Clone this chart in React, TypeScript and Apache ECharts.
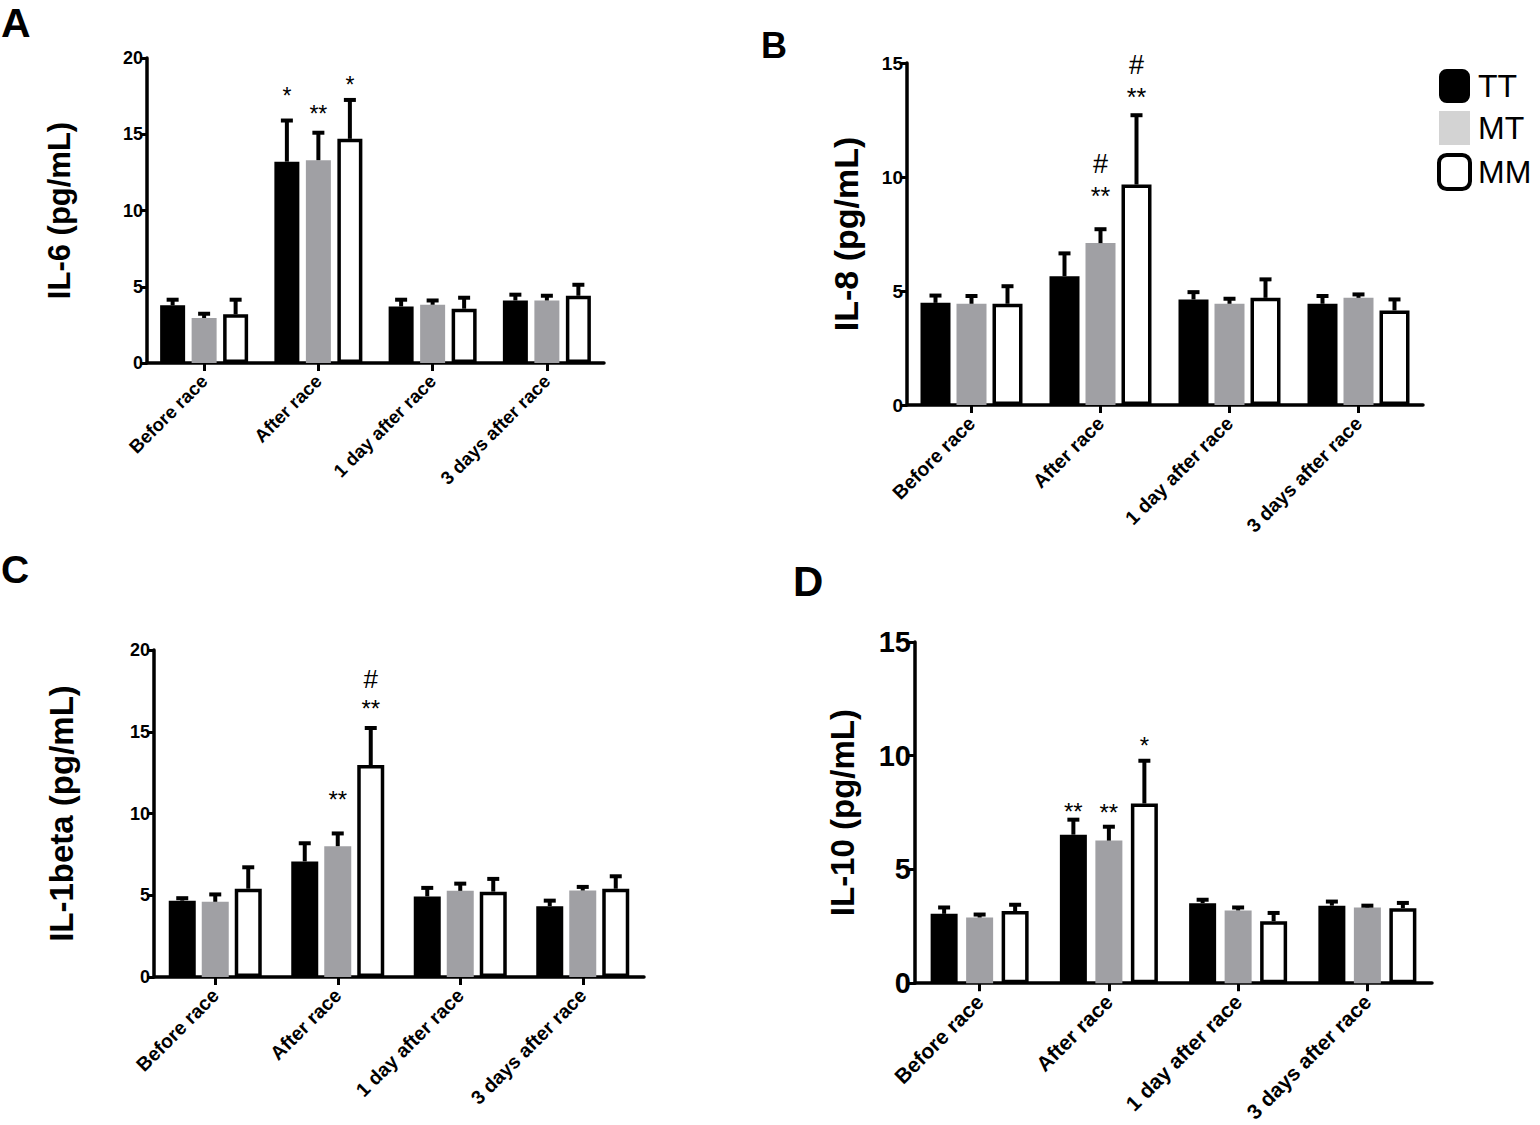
import React, { useEffect, useRef } from "react";
import * as echarts from "echarts";

const categories = ["Before race", "After race", "1 day after race", "3 days after race"];
const groups = ["TT", "MT", "MM"];

// IL-6
const il6TT = [3.78, 13.2, 3.71, 4.1];
const il6MT = [2.95, 13.3, 3.82, 4.1];
const il6MM = [3.19, 14.7, 3.56, 4.41];
const il6TTsem = [0.37, 2.7, 0.44, 0.38];
const il6MTsem = [0.28, 1.8, 0.28, 0.31];
const il6MMsem = [0.96, 2.55, 0.72, 0.72];
const il6Notes: [number, number, string, number][] = [
  [1, 0, "*", 17.9],
  [1, 1, "**", 16.66],
  [1, 2, "*", 18.6],
];

// IL-8
const il8TT = [4.48, 5.65, 4.63, 4.44];
const il8MT = [4.44, 7.1, 4.44, 4.7];
const il8MM = [4.44, 9.67, 4.7, 4.15];
const il8TTsem = [0.32, 1.0, 0.32, 0.34];
const il8MTsem = [0.34, 0.61, 0.22, 0.15];
const il8MMsem = [0.77, 3.04, 0.81, 0.48];
const il8Notes: [number, number, string, number][] = [
  [1, 1, "#", 10.55],
  [1, 1, "**", 9.45],
  [1, 2, "#", 14.93],
  [1, 2, "**", 13.76],
];

// IL-1beta
const il1TT = [4.67, 7.07, 4.93, 4.33];
const il1MT = [4.6, 8.0, 5.27, 5.29];
const il1MM = [5.4, 12.96, 5.22, 5.4];
const il1TTsem = [0.15, 1.11, 0.52, 0.34];
const il1MTsem = [0.45, 0.78, 0.44, 0.22];
const il1MMsem = [1.31, 2.27, 0.78, 0.76];
const il1Notes: [number, number, string, number][] = [
  [1, 1, "**", 11.22],
  [1, 2, "#", 18.2],
  [1, 2, "**", 16.8],
];

// IL-10
const il10TT = [3.05, 6.53, 3.52, 3.41];
const il10MT = [2.89, 6.27, 3.2, 3.33];
const il10MM = [3.17, 7.9, 2.73, 3.3];
const il10TTsem = [0.28, 0.66, 0.15, 0.18];
const il10MTsem = [0.13, 0.61, 0.13, 0.08];
const il10MMsem = [0.28, 1.88, 0.36, 0.23];
const il10Notes: [number, number, string, number][] = [
  [1, 0, "**", 7.81],
  [1, 1, "**", 7.78],
  [1, 2, "*", 10.7],
];

const yTicks = { A: 20, B: 15, C: 20, D: 15 };

const FONT = "'Liberation Sans', Arial, Helvetica, sans-serif";
const COLORS = ["#000000", "#a0a0a4", "#ffffff"];

type Panel = {
  letter: string;
  title: string;
  means: number[][];
  sems: number[][];
  notes: [number, number, string, number][];
  max: number;
  grid: { left: number; top: number; width: number; height: number };
  barWidth: number;
  barGapPx: number;
  nameGap: number;
  titleSize: number;
  tickSize: number;
  catSize: number;
  starSize: number;
  hashSize: number;
  letterPos: [number, number];
  letterSize: number;
};

const panels: Panel[] = [
  {
    letter: "A",
    title: "IL-6 (pg/mL)",
    means: [il6TT, il6MT, il6MM],
    sems: [il6TTsem, il6MTsem, il6MMsem],
    notes: il6Notes,
    max: yTicks.A,
    grid: { left: 147, top: 58, width: 457, height: 305 },
    barWidth: 25,
    barGapPx: 6.5,
    nameGap: 72,
    titleSize: 31,
    tickSize: 18,
    catSize: 18.5,
    starSize: 23,
    hashSize: 26,
    letterPos: [1, 2],
    letterSize: 41,
  },
  {
    letter: "B",
    title: "IL-8 (pg/mL)",
    means: [il8TT, il8MT, il8MM],
    sems: [il8TTsem, il8MTsem, il8MMsem],
    notes: il8Notes,
    max: yTicks.B,
    grid: { left: 907, top: 63, width: 516, height: 342 },
    barWidth: 30,
    barGapPx: 6,
    nameGap: 44,
    titleSize: 34,
    tickSize: 19,
    catSize: 19.5,
    starSize: 25,
    hashSize: 27,
    letterPos: [761, 27],
    letterSize: 36,
  },
  {
    letter: "C",
    title: "IL-1beta (pg/mL)",
    means: [il1TT, il1MT, il1MM],
    sems: [il1TTsem, il1MTsem, il1MMsem],
    notes: il1Notes,
    max: yTicks.C,
    grid: { left: 154, top: 650, width: 490, height: 327 },
    barWidth: 27,
    barGapPx: 6,
    nameGap: 76,
    titleSize: 33,
    tickSize: 18,
    catSize: 19.5,
    starSize: 24,
    hashSize: 26,
    letterPos: [1, 550],
    letterSize: 39,
  },
  {
    letter: "D",
    title: "IL-10 (pg/mL)",
    means: [il10TT, il10MT, il10MM],
    sems: [il10TTsem, il10MTsem, il10MMsem],
    notes: il10Notes,
    max: yTicks.D,
    grid: { left: 915, top: 642, width: 517, height: 342 },
    barWidth: 27,
    barGapPx: 8.5,
    nameGap: 56,
    titleSize: 33,
    tickSize: 29,
    catSize: 21,
    starSize: 24,
    hashSize: 26,
    letterPos: [793, 560],
    letterSize: 42,
  },
];

function buildOption() {
  const grid: any[] = [];
  const xAxis: any[] = [];
  const yAxis: any[] = [];
  const series: any[] = [];
  const graphic: any[] = [];

  panels.forEach((p, gi) => {
    grid.push({ ...p.grid, containLabel: false });
    xAxis.push({
      type: "category",
      gridIndex: gi,
      data: categories,
      axisLine: { show: true, lineStyle: { color: "#000", width: 3.5 } },
      axisTick: { show: true, alignWithLabel: true, length: 8, lineStyle: { color: "#000", width: 3 } },
      axisLabel: {
        interval: 0,
        rotate: 45,
        margin: 15,
        color: "#000",
        fontFamily: FONT,
        fontWeight: "bold",
        fontSize: p.catSize,
      },
      splitLine: { show: false },
    });
    yAxis.push({
      type: "value",
      gridIndex: gi,
      min: 0,
      max: p.max,
      interval: 5,
      name: p.title,
      nameLocation: "middle",
      nameRotate: 90,
      nameGap: p.nameGap,
      nameTextStyle: { color: "#000", fontFamily: FONT, fontWeight: "bold", fontSize: p.titleSize },
      axisLine: { show: true, lineStyle: { color: "#000", width: 3.5 } },
      axisTick: { show: true, length: 7, lineStyle: { color: "#000", width: 3 } },
      axisLabel: { color: "#000", fontFamily: FONT, fontWeight: "bold", fontSize: p.tickSize, margin: 4 },
      splitLine: { show: false },
    });

    const pitch = p.barWidth + p.barGapPx;
    groups.forEach((g, si) => {
      series.push({
        type: "bar",
        name: g,
        xAxisIndex: gi,
        yAxisIndex: gi,
        data: p.means[si],
        barWidth: p.barWidth,
        barGap: (p.barGapPx / p.barWidth) * 100 + "%",
        itemStyle:
          si === 2
            ? { color: "#ffffff", borderColor: "#000", borderWidth: 3.5 }
            : { color: COLORS[si] },
        z: 2,
      });
    });

    // error bars (upward only)
    const errData: number[][] = [];
    groups.forEach((g, si) => {
      p.means[si].forEach((m, ci) => errData.push([ci, si, m, p.sems[si][ci]]));
    });
    series.push({
      type: "custom",
      name: "err" + gi,
      xAxisIndex: gi,
      yAxisIndex: gi,
      data: errData,
      z: 3,
      clip: false,
      encode: { x: 0, y: 2 },
      renderItem: (params: any, api: any) => {
        const ci = api.value(0);
        const si = api.value(1);
        const m = api.value(2);
        const s = api.value(3);
        const base = api.coord([ci, m]);
        const top = api.coord([ci, m + s]);
        const x = base[0] + (si - 1) * pitch;
        const cap = 12;
        return {
          type: "group",
          children: [
            { type: "line", shape: { x1: x, y1: base[1], x2: x, y2: top[1] }, style: { stroke: "#000", lineWidth: 4 } },
            { type: "line", shape: { x1: x - cap / 2, y1: top[1], x2: x + cap / 2, y2: top[1] }, style: { stroke: "#000", lineWidth: 4 } },
          ],
        };
      },
    });

    // significance annotations
    const notes = p.notes;
    series.push({
      type: "custom",
      name: "note" + gi,
      xAxisIndex: gi,
      yAxisIndex: gi,
      data: notes.map((n) => [n[0], n[1], n[3]]),
      z: 4,
      clip: false,
      encode: { x: 0, y: 2 },
      renderItem: (params: any, api: any) => {
        const n = notes[params.dataIndex];
        const pt = api.coord([api.value(0), api.value(2)]);
        const x = pt[0] + (api.value(1) - 1) * pitch;
        const isStar = n[2].indexOf("*") >= 0;
        const fs = isStar ? p.starSize : p.hashSize;
        return {
          type: "text",
          x,
          y: pt[1] + (isStar ? fs * 0.24 : 0),
          style: {
            text: n[2],
            fontSize: fs,
            fontFamily: FONT,
            fill: "#000",
            align: "center",
            verticalAlign: "middle",
          },
        };
      },
    });

    graphic.push({
      type: "text",
      left: p.letterPos[0],
      top: p.letterPos[1],
      style: { text: p.letter, fontSize: p.letterSize, fontWeight: "bold", fontFamily: FONT, fill: "#000" },
    });
  });

  return {
    animation: false,
    backgroundColor: "#ffffff",
    grid,
    xAxis,
    yAxis,
    series,
    graphic,
    legend: {
      orient: "vertical",
      left: 1432,
      top: 64,
      itemWidth: 31,
      itemHeight: 34,
      itemGap: 8,
      selectedMode: false,
      textStyle: { color: "#000", fontFamily: FONT, fontSize: 32, padding: [0, 0, 0, 3] },
      data: [
        { name: "TT", icon: "roundRect", itemStyle: { color: "#000" } },
        { name: "MT", icon: "rect", itemStyle: { color: "#d3d3d3" } },
        { name: "MM", icon: "roundRect", itemStyle: { color: "#fff", borderColor: "#000", borderWidth: 4 } },
      ],
    },
  };
}

export default function App() {
  const ref = useRef<HTMLDivElement>(null);
  useEffect(() => {
    if (!ref.current) return;
    const chart = echarts.init(ref.current, undefined, { renderer: "svg" });
    chart.setOption(buildOption() as any);
    return () => chart.dispose();
  }, []);
  return (
    <div
      ref={ref}
      style={{ position: "absolute", left: 0, top: 0, width: 1540, height: 1125, background: "#fff" }}
    />
  );
}
